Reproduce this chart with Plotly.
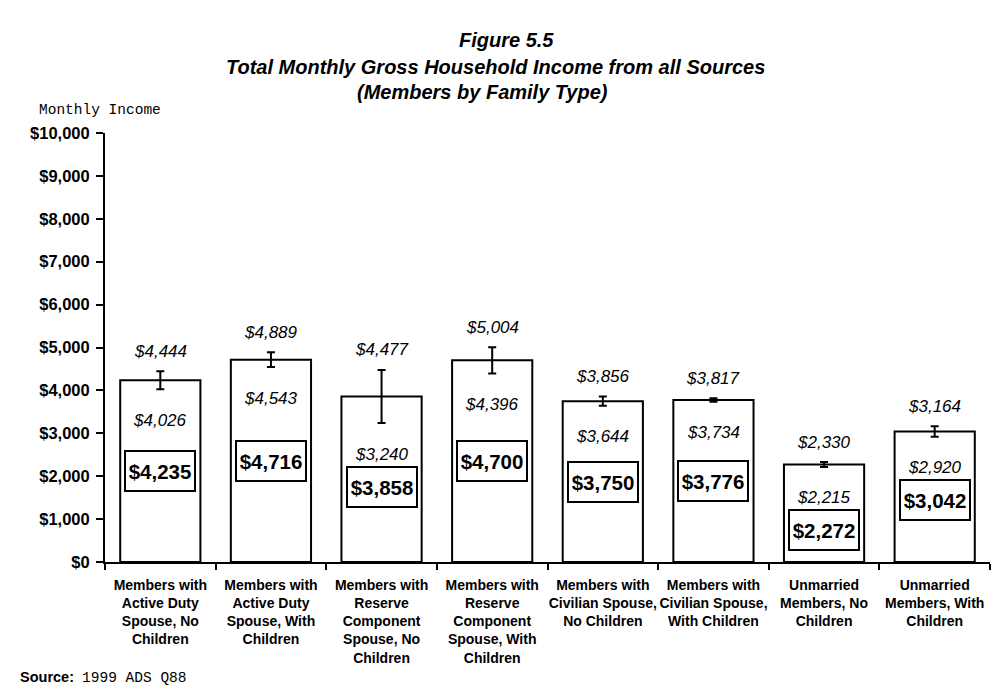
import plotly.graph_objects as go

# -----------------------
# DATA
# -----------------------
categories = [
    "Members with<br>Active Duty<br>Spouse, No<br>Children",
    "Members with<br>Active Duty<br>Spouse, With<br>Children",
    "Members with<br>Reserve<br>Component<br>Spouse, No<br>Children",
    "Members with<br>Reserve<br>Component<br>Spouse, With<br>Children",
    "Members with<br>Civilian Spouse,<br>No Children",
    "Members with<br>Civilian Spouse,<br>With Children",
    "Unmarried<br>Members, No<br>Children",
    "Unmarried<br>Members, With<br>Children",
]
income = [4235, 4716, 3858, 4700, 3750, 3776, 2272, 3042]
upper = [4444, 4889, 4477, 5004, 3856, 3817, 2330, 3164]
lower = [4026, 4543, 3240, 4396, 3644, 3734, 2215, 2920]

y_ticks = list(range(0, 10001, 1000))
y_tick_labels = ["${:,}".format(v) for v in y_ticks]

W, H = 997, 691
L, R, T, B = 105, 7, 133, 129
SANS = "Liberation Sans, Arial, sans-serif"
MONO = "Liberation Mono, Courier New, monospace"


def px_x(px):
    return (px - L) / (W - L - R)


def px_y(py):
    return (H - B - py) / (H - T - B)


fig = go.Figure()

fig.add_trace(go.Bar(
    x=categories,
    y=income,
    width=0.725,
    marker=dict(color="white", line=dict(color="black", width=2)),
    error_y=dict(
        type="data",
        symmetric=False,
        array=[u - v for u, v in zip(upper, income)],
        arrayminus=[v - lo for v, lo in zip(income, lower)],
        color="black",
        thickness=2,
        width=4,
    ),
    showlegend=False,
    hoverinfo="skip",
))

annotations = []
for cat, v, hi, lo in zip(categories, income, upper, lower):
    # upper bound label
    annotations.append(dict(
        x=cat, y=hi, yshift=20, text="<i>${:,}</i>".format(hi),
        showarrow=False, font=dict(family=SANS, size=17, color="black"),
    ))
    # lower bound label
    annotations.append(dict(
        x=cat, y=lo, yshift=-31, text="<i>${:,}</i>".format(lo),
        showarrow=False, font=dict(family=SANS, size=17, color="black"),
    ))
    # boxed main value
    annotations.append(dict(
        x=cat, y=min(v / 2, lo - 1480), text="<b>${:,}</b>".format(v),
        showarrow=False, font=dict(family=SANS, size=20.5, color="black"),
        bordercolor="black", borderwidth=2, borderpad=1,
        bgcolor="white", width=66, height=36,
    ))

# title lines
title_lines = [
    ("<b><i>Figure 5.5</i></b>", 506, 40),
    ("<b><i>Total Monthly Gross Household Income from all Sources</i></b>", 495, 67),
    ("<b><i>(Members by Family Type)</i></b>", 482, 92),
]
for txt, cx, cy in title_lines:
    annotations.append(dict(
        xref="paper", yref="paper", x=px_x(cx), y=px_y(cy),
        text=txt, showarrow=False, xanchor="center", yanchor="middle",
        font=dict(family=SANS, size=20, color="black"),
    ))

annotations.append(dict(
    xref="paper", yref="paper", x=px_x(100), y=px_y(110),
    text="Monthly Income", showarrow=False, xanchor="center", yanchor="middle",
    font=dict(family=MONO, size=14.5, color="black"),
))
annotations.append(dict(
    xref="paper", yref="paper", x=px_x(18), y=px_y(677),
    text="<b>Source:</b>  <span style='font-family:Liberation Mono, Courier New, monospace'>1999 ADS Q88</span>",
    showarrow=False, xanchor="left", yanchor="middle",
    font=dict(family=SANS, size=14.5, color="black"),
))

fig.update_layout(
    width=W,
    height=H,
    margin=dict(l=L, r=R, t=T, b=B),
    paper_bgcolor="white",
    plot_bgcolor="white",
    annotations=annotations,
    bargap=0.275,
)

fig.update_xaxes(
    automargin=False,
    showline=True, linecolor="black", linewidth=2,
    ticks="outside", tickson="boundaries", ticklen=6, tickwidth=2, tickcolor="black",
    showgrid=False, tickangle=0, ticklabelstandoff=9,
    tickfont=dict(family=SANS, size=14, color="black"),
    tickprefix="<b>", ticksuffix="</b>",
)
fig.update_yaxes(
    automargin=False,
    range=[0, 10000],
    tickvals=y_ticks, ticktext=["<b>" + t + "</b>" for t in y_tick_labels],
    showline=True, linecolor="black", linewidth=2,
    ticks="outside", ticklen=7, tickwidth=2, tickcolor="black",
    showgrid=False, zeroline=False, ticklabelstandoff=3,
    tickfont=dict(family=SANS, size=16.5, color="black"),
)

# page has a default body margin; drop it so the figure sits at the corner
fig.write_html(
    "out.html",
    config={"displayModeBar": False},
    post_script="document.body.style.margin='0';",
)
